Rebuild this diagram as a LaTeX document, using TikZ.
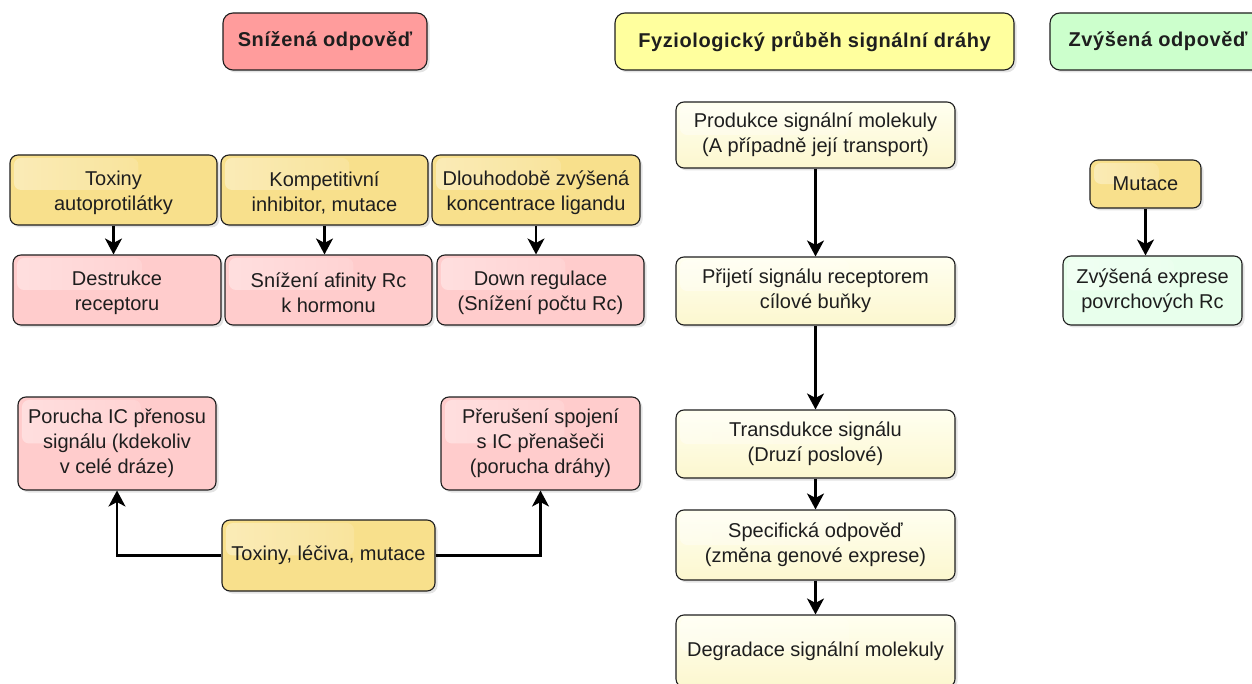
\documentclass[tikz,border=0pt]{standalone}
\usepackage{fontspec}
\setmainfont{Liberation Sans}
\newfontfamily\headfont[LetterSpace=3]{Liberation Sans}
\usetikzlibrary{shadows,fadings,calc,arrows.meta}

\definecolor{inkc}{HTML}{1E1E1E}
\definecolor{hdred}{HTML}{FF9C9C}
\definecolor{hdyellow}{HTML}{FFFF9E}
\definecolor{hdgreen}{HTML}{CCFFCC}
\definecolor{cause}{HTML}{F8E08C}
\definecolor{effect}{HTML}{FFCCCC}
\definecolor{pathtop}{HTML}{FFFFF0}
\definecolor{pathbot}{HTML}{FCF7CF}
\definecolor{upfill}{HTML}{E8FFEC}

\begin{document}
\begin{tikzpicture}[x=1pt,y=-1pt,
  base/.style={draw=inkc, line width=1.1pt, rounded corners=8pt, align=center,
    inner sep=0pt, text=inkc, font=\fontsize{20}{25}\selectfont,
    drop shadow={shadow xshift=2.5pt, shadow yshift=-2.5pt, opacity=0.22}},
  glass/.style={path picture={
    \path let \p1=(path picture bounding box.north west),
              \p2=(path picture bounding box.south east) in
      [fill=white, fill opacity=0.38, path fading=east, rounded corners=7pt]
      (\x1+4pt,\y1-3pt) rectangle ({\x1+0.62*(\x2-\x1)},{\y1+0.5*(\y2-\y1)});}},
  header/.style={base, rounded corners=10pt, minimum height=57pt,
    font=\headfont\bfseries\fontsize{20}{24}\selectfont},
  causebox/.style={base, glass, fill=cause},
  effectbox/.style={base, glass, fill=effect},
  pathbox/.style={base, glass, top color=pathtop, bottom color=pathbot,
    minimum width=279pt},
  upbox/.style={base, glass, fill=upfill},
  tipstyle/.style={-{Stealth[length=16pt, width=17pt, inset=4.5pt]}},
  arr/.style={line width=2.2pt, draw=black, tipstyle},
  link/.style={line width=2.2pt, draw=black, rounded corners=0pt, tipstyle}
]
\useasboundingbox (0,0) rectangle (1252,684);
\clip (0,0) rectangle (1252,684);

% column headings
\node[header, fill=hdred, minimum width=204pt] (hA) at (325,41.5) {Snížená odpověď};
\node[header, fill=hdyellow, minimum width=399pt] (hB) at (814.5,41.5) {Fyziologický průběh signální dráhy};
\node[header, fill=hdgreen, minimum width=216pt] (hC) at (1158,41.5) {Zvýšená odpověď};

% reduced response: causes and their effects on the receptor
\node[causebox, minimum width=207pt, minimum height=70pt] (t1) at (113.5,190) {\rule{0pt}{21pt}Toxiny\\autoprotilátky};
\node[causebox, minimum width=207pt, minimum height=70pt] (t2) at (324.5,190) {\rule{0pt}{21pt}Kompetitivní\\inhibitor, mutace};
\node[causebox, minimum width=208pt, minimum height=70pt] (t3) at (536,190) {\rule{0pt}{21pt}Dlouhodobě zvýšená\\koncentrace ligandu};

\node[effectbox, minimum width=208pt, minimum height=70pt] (p1) at (117,290) {\rule{0pt}{21pt}Destrukce\\receptoru};
\node[effectbox, minimum width=207pt, minimum height=70pt] (p2) at (328.5,290) {\rule{0pt}{21pt}Snížení afinity Rc\\k hormonu};
\node[effectbox, minimum width=207pt, minimum height=70pt] (p3) at (540.5,290) {\rule{0pt}{21pt}Down regulace\\(Snížení počtu Rc)};

\draw[arr] (t1.south) -- (t1.south |- p1.north);
\draw[arr] (t2.south) -- (t2.south |- p2.north);
\draw[arr] (t3.south) -- (t3.south |- p3.north);

% intracellular disorders
\node[effectbox, minimum width=198pt, minimum height=93pt] (q1) at (117,443.5) {Porucha IC přenosu\\signálu (kdekoliv\\v celé dráze)};
\node[effectbox, minimum width=199pt, minimum height=93pt] (q2) at (540.5,443.5) {Přerušení spojení\\s IC přenašeči\\(porucha dráhy)};
\node[causebox, minimum width=213pt, minimum height=71pt] (tx) at (328.5,555.5) {Toxiny, léčiva, mutace};

\draw[link] (tx.west) -| (q1.south);
\draw[link] (tx.east) -| (q2.south);

% physiological course of the signalling pathway
\node[pathbox, minimum height=66pt] (m1) at (815.5,135) {Produkce signální molekuly\\(A případně její transport)};
\node[pathbox, minimum height=68pt] (m2) at (815.5,291) {Přijetí signálu receptorem\\cílové buňky};
\node[pathbox, minimum height=68pt] (m3) at (815.5,444) {Transdukce signálu\\(Druzí poslové)};
\node[pathbox, minimum height=70pt] (m4) at (815.5,545) {Specifická odpověď\\(změna genové exprese)};
\node[pathbox, minimum height=72pt] (m5) at (815.5,651) {Degradace signální molekuly};

\draw[arr] (m1) -- (m2);
\draw[arr] (m2) -- (m3);
\draw[arr] (m3) -- (m4);
\draw[arr] (m4) -- (m5);

% increased response
\node[causebox, minimum width=111pt, minimum height=48pt] (r1) at (1145.5,184) {Mutace};
\node[upbox, minimum width=179pt, minimum height=69pt] (r2) at (1152.5,290.5) {Zvýšená exprese\\povrchových Rc};

\draw[arr] (r1.south) -- (r1.south |- r2.north);
\end{tikzpicture}
\end{document}
